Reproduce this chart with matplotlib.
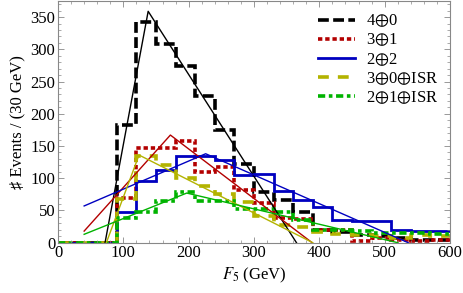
import numpy as np
import matplotlib
matplotlib.use('Agg')
import matplotlib.pyplot as plt

plt.rcParams['font.family'] = ['Liberation Serif', 'DejaVu Serif']
plt.rcParams['mathtext.fontset'] = 'stix'

# histogram bins, 30 GeV wide
edges = np.arange(0, 601, 30)

h40 = [0, 0, 0, 182, 342, 308, 274, 228, 175, 122, 79, 66, 47, 20, 16, 12, 10, 7, 4, 4]
h31 = [0, 0, 0, 70, 147, 147, 158, 110, 118, 82, 61, 38, 36, 20, 20, 2, 8, 4, 3, 4]
h22 = [0, 0, 0, 48, 95, 113, 135, 135, 128, 105, 107, 80, 67, 56, 35, 34, 33, 20, 18, 18]
h30isr = [0, 0, 0, 68, 134, 121, 100, 88, 75, 63, 42, 27, 24, 17, 14, 12, 10, 8, 12, 10]
h21isr = [0, 0, 0, 38, 48, 64, 78, 64, 64, 52, 53, 48, 35, 20, 20, 18, 15, 15, 15, 13]

# triangle fits (x, y) vertices
fit40_x = [72, 138, 365]
fit40_y = [0, 359, 0]
fit31_x = [40, 172, 389]
fit31_y = [18, 167, 0]
fit22_x = [40, 226, 536]
fit22_y = [57, 138, 0]
fit30isr_x = [74, 124, 390]
fit30isr_y = [0, 136, 0]
fit21isr_x = [40, 197, 520]
fit21isr_y = [13, 77, 0]

labels = ['4$\\oplus$0', '3$\\oplus$1', '2$\\oplus$2', '3$\\oplus$0$\\oplus$ISR', '2$\\oplus$1$\\oplus$ISR']

black = '#000000'
red = '#b30000'
blue = '#0000c0'
yellow = '#b3b300'
green = '#00b300'

fig = plt.figure(figsize=(4.63, 2.93), dpi=100)
ax = fig.add_axes([0.1253, 0.1717, 0.8466, 0.8249])

lw = 2.6
ax.stairs(h40, edges, baseline=None, color=black, lw=lw, ls=(0, (3, 1.2)), label=labels[0])
ax.stairs(h31, edges, baseline=None, color=red, lw=lw, ls=(0, (1.2, 0.8)), label=labels[1])
ax.stairs(h22, edges, baseline=None, color=blue, lw=2.0, ls='-', label=labels[2])
ax.stairs(h30isr, edges, baseline=None, color=yellow, lw=lw, ls=(0, (3, 2.5)), label=labels[3])
ax.stairs(h21isr, edges, baseline=None, color=green, lw=lw, ls=(0, (2, 1, 1, 1)), label=labels[4])

ax.plot(fit40_x, fit40_y, color=black, lw=1)
ax.plot(fit31_x, fit31_y, color=red, lw=1)
ax.plot(fit22_x, fit22_y, color=blue, lw=1)
ax.plot(fit30isr_x, fit30isr_y, color=yellow, lw=1)
ax.plot(fit21isr_x, fit21isr_y, color=green, lw=1)

ax.set_xlim(0, 600)
ax.set_ylim(0, 375)
ax.set_xticks(np.arange(0, 601, 100))
ax.set_xticks(np.arange(0, 601, 20), minor=True)
ax.set_yticks(np.arange(0, 351, 50))
ax.set_yticks(np.arange(0, 376, 10), minor=True)
ax.tick_params(which='both', direction='in', top=True, right=True, color='#888888', labelsize=12, pad=2)
ax.tick_params(which='major', length=4, width=0.6)
ax.tick_params(which='minor', length=2, width=0.5)
for s in ax.spines.values():
    s.set_color('#888888')
    s.set_linewidth(0.8)

ax.set_xlabel('$F_5$ (GeV)', fontsize=12, labelpad=3)
ax.set_ylabel('\u266f Events / (30 GeV)', fontsize=12, labelpad=3)

leg = ax.legend(loc='upper right', frameon=False, fontsize=12, handlelength=2.2,
                handletextpad=0.65, labelspacing=0.15, borderaxespad=0.3)

fig.savefig('out.png', dpi=100)
